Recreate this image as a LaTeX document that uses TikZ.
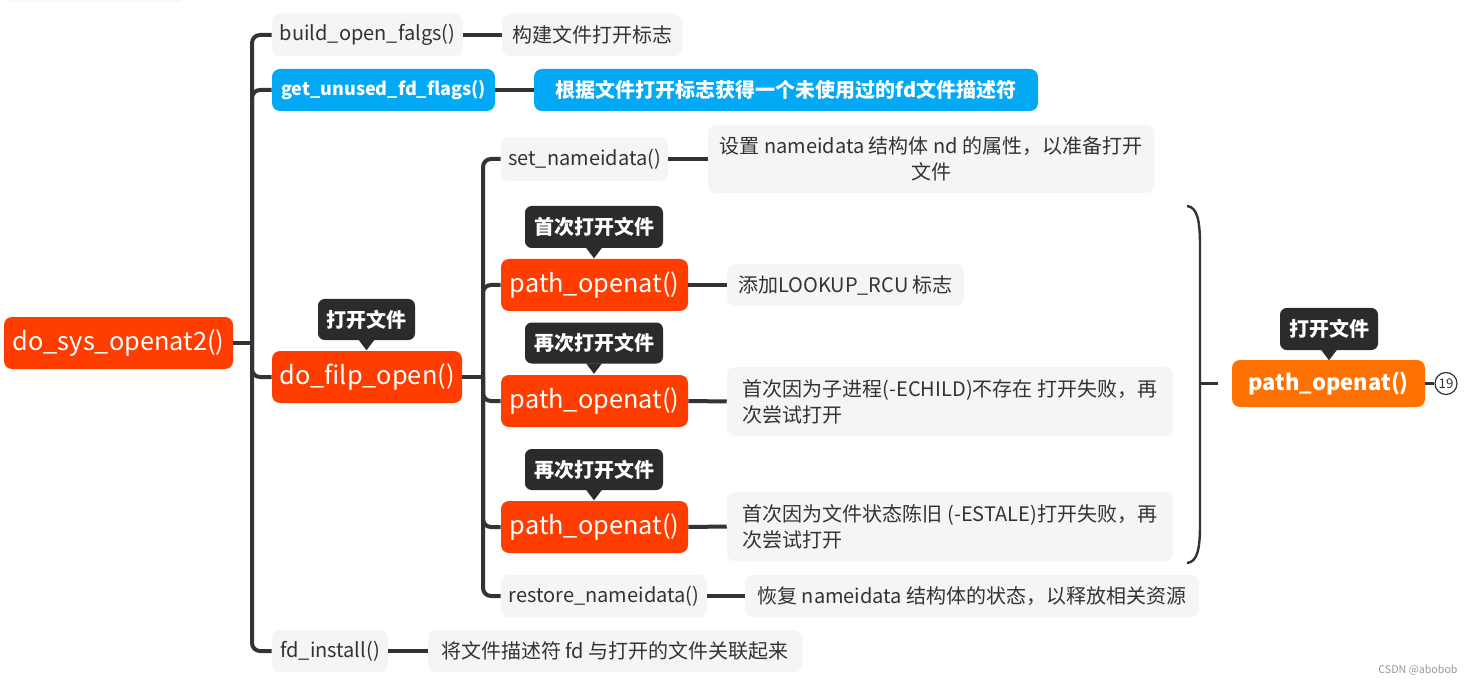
\documentclass[tikz,border=0pt]{standalone}
\usepackage{fontspec}
\setmainfont{Noto Sans CJK SC}
\usetikzlibrary{calc}
\definecolor{myred}{HTML}{FF3D00}
\definecolor{myblue}{HTML}{03A9F4}
\definecolor{myorange}{HTML}{FF7100}
\definecolor{boxgrey}{HTML}{F5F5F5}
\definecolor{txt}{HTML}{333333}
\definecolor{calldark}{HTML}{2B2B2B}
\definecolor{linec}{HTML}{333333}
\newcommand\calloutptr[1]{\fill[calldark] ($(#1.south)+(-8,-0.5)$) -- ($(#1.south)+(8,-0.5)$) -- ($(#1.south)+(0,10)$) -- cycle;}
\begin{document}
\begin{tikzpicture}[x=0.75pt,y=-0.75pt,
 sz/.style 2 args={minimum width=#1*0.75pt, minimum height=#2*0.75pt},
 box/.style={rounded corners=6pt, inner sep=0pt, align=center},
 grey/.style={box, fill=boxgrey, text=txt, font=\fontsize{15}{19.5}\selectfont},
 redn/.style={box, fill=myred, text=white, font=\fontsize{19}{23}\selectfont},
 bluen/.style={box, fill=myblue, text=white, font=\fontsize{15}{19.5}\selectfont\bfseries},
 orangen/.style={box, fill=myorange, text=white, font=\fontsize{16.5}{20}\selectfont\bfseries},
 callout/.style={box, rounded corners=5pt, fill=calldark, text=white, font=\fontsize{15}{18}\selectfont\bfseries},
 conn/.style={draw=linec, line width=3pt},
 trunk/.style={draw=linec, line width=3pt, rounded corners=6pt},
]
\useasboundingbox (0,0) rectangle (1474,684);
\clip (0,0) rectangle (1474,684);
\fill[white] (0,0) rectangle (1474,684);
% faint partial shape at top-left
\path[fill=boxgrey!70, rounded corners=6pt] (5,-40) rectangle (185,2);

% nodes
\node[redn, sz={229}{52}] (sys) at (118.5,343) {do\_sys\_openat2()};
\node[grey, sz={191}{42}] (build) at (367.5,35) {build\_open\_falgs()};
\node[grey, sz={180}{42}] (buildd) at (592,35) {构建文件打开标志};
\node[bluen, sz={223}{42}, font=\fontsize{13.5}{18}\selectfont\bfseries] (unused) at (383.5,90) {get\_unused\_fd\_flags()};
\node[bluen, sz={504}{42}] (unusedd) at (786,90) {根据文件打开标志获得一个未使用过的fd文件描述符};
\node[redn, sz={190}{52}] (filp) at (367,377) {do\_filp\_open()};
\node[callout, sz={97}{41}] (filpl) at (366.5,319.5) {打开文件};
\calloutptr{filpl}

\node[grey, sz={167}{44}] (setnd) at (584.5,159) {set\_nameidata()};
\node[grey, sz={446}{68}] (setndd) at (931,159) {设置 nameidata 结构体 nd 的属性，以准备打开\\文件};

\node[redn, sz={187}{52}] (po1) at (594.5,285) {path\_openat()};
\node[callout, sz={138}{42}] (po1l) at (594,227) {首次打开文件};
\calloutptr{po1l}
\node[grey, sz={237}{42}] (po1d) at (845.5,285) {添加LOOKUP\_RCU 标志};

\node[redn, sz={187}{52}] (po2) at (594.5,401) {path\_openat()};
\node[callout, sz={138}{41}] (po2l) at (594,343) {再次打开文件};
\calloutptr{po2l}
\node[grey, sz={446}{69}, align=left] (po2d) at (950,401.5) {首次因为子进程(-ECHILD)不存在 打开失败，再\\次尝试打开};

\node[redn, sz={187}{52}] (po3) at (594.5,527) {path\_openat()};
\node[callout, sz={138}{41}] (po3l) at (594,469.5) {再次打开文件};
\calloutptr{po3l}
\node[grey, sz={446}{69}, align=left] (po3d) at (950,526.5) {首次因为文件状态陈旧 (-ESTALE)打开失败，再\\次尝试打开};

\node[grey, sz={206}{42}] (restore) at (604,596) {restore\_nameidata()};
\node[grey, sz={454}{42}] (restored) at (972,596) {恢复 nameidata 结构体的状态，以释放相关资源};

\node[grey, sz={116}{42}] (fdi) at (330,651) {fd\_install()};
\node[grey, sz={374}{42}] (fdid) at (615,651) {将文件描述符 fd 与打开的文件关联起来};

\node[orangen, sz={193}{47}] (po) at (1328.5,383.5) {path\_openat()};
\node[callout, sz={98}{42}] (pol) at (1329,329) {打开文件};
\calloutptr{pol}
\node[circle, draw=linec, line width=0.9pt, minimum size=22*0.75pt, inner sep=0pt, text=txt, font=\fontsize{10}{12}\selectfont] (circ) at (1446,383.5) {19};

\node[text=gray!80, font=\fontsize{8}{10}\selectfont] (wm) at (1418,670) {CSDN @abobob};

% main tree
\coordinate (j1) at (252,343);
\draw[conn] (sys.east) -- (j1);
\foreach \c in {build,unused,filp,fdi} \draw[trunk] (j1) |- (\c.west);
\draw[conn] (build.east) -- (buildd.west);
\draw[conn] (unused.east) -- (unusedd.west);
\draw[conn] (fdi.east) -- (fdid.west);

% second tree
\coordinate (j2) at (483,377);
\draw[conn] (filp.east) -- (j2);
\foreach \c in {setnd,po1,po2,po3,restore} \draw[trunk] (j2) |- (\c.west);
\draw[conn] (setnd.east) -- (setndd.west);
\draw[conn] (po1.east) -- (po1d.west);
\draw[conn] (po2.east) -- (po2d.west);
\draw[conn] (po3.east) -- (po3d.west);
\draw[conn] (restore.east) -- (restored.west);

% brace
\draw[linec, line width=1.8pt] (1187,206) .. controls (1197,207) and (1200,220) .. (1200,245) -- (1200,525) .. controls (1200,550) and (1197,562) .. (1187,563);
\coordinate (bt) at (1200,383.5);
\draw[linec, line width=1.8pt] (bt) -- ($(po.west)+(-14,0)$);
\draw[linec, line width=2.2pt] (po.east) -- (circ.west);
\end{tikzpicture}
\end{document}
